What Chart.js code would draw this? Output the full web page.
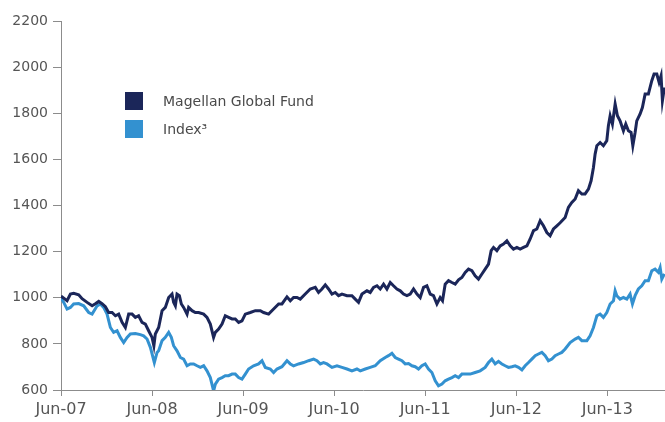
<!DOCTYPE html>
<html>
<head>
<meta charset="utf-8">
<script src="https://cdn.jsdelivr.net/npm/chart.js@4.4.0/dist/chart.umd.min.js"></script>
<style>
  body { margin: 0; background: #fff; }
  #wrap { position: relative; width: 665px; height: 422px; }
  #legend { position: absolute; left: 125px; top: 92px; font-family: "DejaVu Sans", sans-serif; font-size: 14px; color: #4a4a4a; }
  .item { display: flex; align-items: center; height: 18px; margin-bottom: 10px; }
  .box { width: 18px; height: 18px; margin-right: 20px; }
</style>
</head>
<body>
<div id="wrap">
  <canvas id="perfChart" width="665" height="422"></canvas>
  <div id="legend"></div>
</div>
<script>
// months since Jun-07
const fundMonths = [0,0.14,0.80,1.24,1.67,2.33,2.78,3.44,4.10,4.53,4.97,5.41,5.85,6.28,6.73,7.17,7.60,8.05,8.48,8.92,9.37,9.80,10.23,10.68,11.12,11.55,12.00,12.24,12.43,12.87,13.32,13.75,14.19,14.63,14.84,15.07,15.29,15.60,15.86,16.16,16.61,16.82,17.27,17.70,18.14,18.80,19.24,19.68,20.11,20.34,20.77,21.22,21.65,22.09,22.54,22.97,23.41,23.85,24.29,24.95,25.61,26.27,26.70,27.36,28.02,28.68,29.12,29.78,30.22,30.65,31.10,31.53,32.19,32.85,33.51,33.94,34.39,34.83,35.26,35.71,36.14,36.58,37.03,37.69,38.34,38.78,39.21,39.66,40.32,40.75,41.19,41.64,42.07,42.51,42.95,43.39,43.82,44.27,44.71,45.14,45.59,46.02,46.46,46.91,47.34,47.78,48.22,48.66,49.09,49.54,49.97,50.28,50.63,51.07,51.52,51.95,52.39,52.83,53.27,53.70,54.15,54.58,55.02,55.47,55.90,56.34,56.69,57.00,57.44,57.88,58.31,58.76,59.20,59.63,60.08,60.51,60.95,61.40,61.83,62.27,62.71,63.15,63.58,64.03,64.46,64.90,65.35,65.78,66.44,66.87,67.32,67.76,68.19,68.64,69.07,69.51,69.86,70.17,70.39,70.62,71.05,71.48,71.93,72.14,72.37,72.67,73.03,73.33,73.68,74.12,74.43,74.78,75.13,75.36,75.66,75.88,76.32,76.62,76.98,77.41,77.86,78.16,78.52,78.82,79.08,79.26,79.52];
const fundValues = [1000,1004,987,1016,1019,1013,996,980,965,974,984,974,961,936,936,922,929,893,871,929,929,915,922,893,886,857,828,792,843,871,944,958,1001,1016,980,965,1016,1009,973,958,929,958,944,936,936,929,915,886,828,850,864,886,922,915,908,908,893,900,929,936,944,944,936,929,951,973,973,1004,987,1001,1001,994,1016,1038,1045,1023,1038,1056,1038,1016,1023,1009,1016,1009,1009,994,980,1016,1030,1023,1045,1052,1038,1059,1038,1066,1052,1038,1030,1016,1009,1016,1038,1016,1001,1045,1052,1016,1009,973,1001,987,1059,1074,1066,1059,1078,1088,1110,1124,1117,1095,1081,1103,1124,1146,1204,1218,1204,1225,1233,1247,1225,1211,1218,1211,1218,1225,1255,1291,1298,1334,1312,1283,1269,1298,1312,1325,1348,1392,1413,1428,1464,1450,1450,1471,1507,1565,1623,1659,1673,1659,1681,1746,1789,1753,1840,1789,1767,1724,1753,1724,1717,1659,1717,1767,1797,1825,1883,1883,1941,1970,1970,1934,1963,1855,1912];

const indexMonths = [0,0.36,0.80,1.24,1.67,2.33,2.99,3.65,4.10,4.76,5.19,5.62,6.07,6.51,6.94,7.39,7.82,8.26,8.71,9.14,9.80,10.46,10.89,11.34,11.78,12.30,12.66,12.87,13.32,13.75,14.19,14.54,14.84,15.29,15.73,16.16,16.61,17.04,17.48,17.93,18.36,18.80,19.24,19.68,20.11,20.34,20.77,21.22,21.65,22.09,22.54,22.97,23.41,23.85,24.29,24.72,25.38,26.04,26.49,26.92,27.58,28.02,28.46,29.12,29.78,30.22,30.65,31.31,31.97,32.63,33.29,33.73,34.17,34.60,35.05,35.71,36.37,37.03,37.69,38.34,39.00,39.44,40.10,40.75,41.41,42.07,42.73,43.16,43.61,44.05,44.48,44.93,45.36,45.80,46.25,46.68,47.12,47.56,48.00,48.43,48.88,49.32,49.75,50.20,50.63,51.07,51.52,51.95,52.39,52.83,53.27,53.93,54.58,55.24,55.90,56.34,56.78,57.22,57.65,58.10,58.54,58.97,59.42,59.85,60.29,60.74,61.17,61.61,62.05,62.49,62.92,63.37,63.81,64.24,64.69,65.12,65.56,66.00,66.44,67.10,67.76,68.19,68.64,69.30,69.73,70.17,70.62,71.05,71.48,71.93,72.37,72.81,73.03,73.25,73.68,74.12,74.57,75.00,75.31,75.66,76.09,76.54,76.98,77.41,77.86,78.29,78.73,78.96,79.18,79.52];
const indexValues = [1000,980,951,958,973,975,965,936,929,965,973,958,929,871,850,857,828,806,828,843,845,840,835,821,785,719,763,770,814,828,850,828,792,770,741,734,705,713,713,705,698,705,683,654,596,625,647,654,662,662,669,669,654,647,669,691,705,713,727,698,691,676,691,701,727,713,705,713,719,727,734,727,713,719,713,698,705,698,691,683,691,683,691,698,705,727,741,749,759,741,734,727,713,715,705,701,691,705,713,691,676,640,618,626,640,647,654,662,654,669,669,669,676,683,698,719,734,713,724,713,705,698,701,705,698,687,705,719,734,749,756,763,749,727,734,749,756,763,778,806,821,828,814,814,835,871,922,929,915,936,973,987,1030,1009,994,1001,994,1016,973,1009,1038,1052,1074,1074,1117,1124,1110,1131,1081,1103];

const tickMonths = [0, 12, 24, 36, 48, 60, 72];
const tickLabels = ['Jun-07', 'Jun-08', 'Jun-09', 'Jun-10', 'Jun-11', 'Jun-12', 'Jun-13'];
const seriesNames = ['Magellan Global Fund', 'Index\u00B3'];
const seriesColors = ['#1b2659', '#3391d0'];

function toPoints(xs, ys) {
  return xs.map((x, i) => ({ x: x, y: ys[i] }));
}

function buildLegend() {
  const legend = document.getElementById('legend');
  legend.innerHTML = seriesNames.map((name, i) => `
    <div class="item"><div class="box" style="background:${seriesColors[i]}"></div><span>${name}</span></div>
  `).join('');
}

const axisColor = '#8c8c8c';

const ctx = document.getElementById('perfChart').getContext('2d');
new Chart(ctx, {
  type: 'line',
  data: {
    datasets: [
      { label: seriesNames[0], data: toPoints(fundMonths, fundValues), borderColor: seriesColors[0], borderWidth: 3, pointRadius: 0, tension: 0 },
      { label: seriesNames[1], data: toPoints(indexMonths, indexValues), borderColor: seriesColors[1], borderWidth: 3, pointRadius: 0, tension: 0 },
    ],
  },
  options: {
    responsive: false,
    animation: false,
    devicePixelRatio: 1,
    layout: { padding: { top: 21, right: 0, left: 0, bottom: 0 } },
    plugins: { legend: { display: false }, tooltip: { enabled: false } },
    scales: {
      x: {
        type: 'linear',
        min: 0,
        max: 79.6,
        afterFit: (scale) => { scale.height = 32; },
        afterBuildTicks: (scale) => { scale.ticks = tickMonths.map((v) => ({ value: v })); },
        grid: { drawOnChartArea: false, tickLength: 6, color: axisColor },
        border: { color: axisColor },
        ticks: {
          color: '#555',
          font: { family: 'DejaVu Sans', size: 16 },
          padding: 4,
          maxRotation: 0,
          autoSkip: false,
          callback: (value) => tickLabels[tickMonths.indexOf(value)],
        },
      },
      y: {
        min: 600,
        max: 2200,
        afterFit: (scale) => { scale.width = 61; },
        grid: { drawOnChartArea: false, tickLength: 8, color: axisColor },
        border: { color: axisColor },
        ticks: {
          stepSize: 200,
          color: '#555',
          font: { family: 'DejaVu Sans', size: 14 },
          padding: 5,
          callback: (value) => String(value),
        },
      },
    },
  },
});

buildLegend();
</script>
</body>
</html>
